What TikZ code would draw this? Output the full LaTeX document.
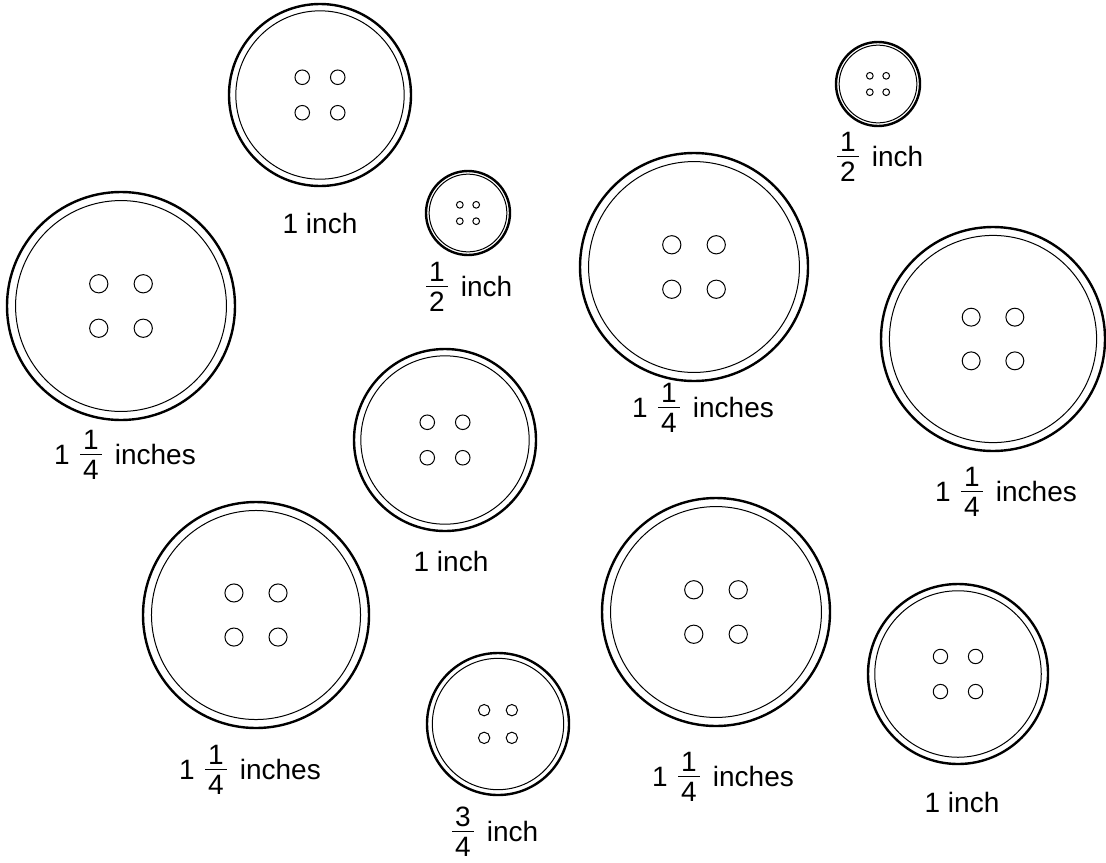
\documentclass[tikz,border=0pt]{standalone}
\usepackage{amsmath}
\usepackage{fontspec}
\setmainfont{Liberation Sans}
\usetikzlibrary{positioning}

\newcommand{\frc}[2]{\raisebox{1.5pt}{$\genfrac{}{}{0.7pt}{1}{\mbox{\rule[-1.5pt]{0pt}{1.5pt}\kern1.5pt#1\kern1.5pt}}{\mbox{\rule{0pt}{11.5pt}\kern1.5pt#2\kern1.5pt}}$}}

\begin{document}
\begin{tikzpicture}[
    x=0.5pt, y=-0.5pt,
    every node/.style={font=\fontsize{14}{17}\selectfont},
    size/.style={inner sep=0pt, align=center},
    rim/.style={line width=0.5pt},
    pics/button/.style={code={
        \draw[line width=1.2pt] (0,0) circle[radius=#1];
        \draw[rim] (0,0) circle[radius=0.925*#1];
        \draw[rim] ({-0.195*#1},{-0.195*#1}) circle[radius=0.08*#1];
        \draw[rim] ({0.195*#1},{-0.195*#1}) circle[radius=0.08*#1];
        \draw[rim] ({-0.195*#1},{0.195*#1}) circle[radius=0.08*#1];
        \draw[rim] ({0.195*#1},{0.195*#1}) circle[radius=0.08*#1];
    }}
]
\useasboundingbox (0,0) rectangle (1106,862);

\pic (oneA) at (320,95) {button=91};
\node (labA) [size] at (320,223) {1 inch};

\pic (halfA) at (468,213) {button=42};
\node (labB) [size] at (468,287) {\frc{1}{2}\hspace{1.5pt} inch};

\pic (halfB) at (878,84) {button=42};
\node (labC) [size] at (879,157) {\frc{1}{2}\hspace{1.5pt} inch};

\pic (bigA) at (121,306) {button=114};
\node (labD) [size] at (125,455) {1\hspace{4pt}\frc{1}{4}\hspace{1.5pt} inches};

\pic (bigB) at (694,267) {button=114};
\node (labE) [size] at (703,408) {1\hspace{4pt}\frc{1}{4}\hspace{1.5pt} inches};

\pic (bigC) at (993,339) {button=112};
\node (labF) [size] at (1006,492) {1\hspace{4pt}\frc{1}{4}\hspace{1.5pt} inches};

\pic (oneB) at (445,440) {button=91};
\node (labG) [size] at (451,561) {1 inch};

\pic (bigD) at (256,615) {button=113};
\node (labH) [size] at (250,770) {1\hspace{4pt}\frc{1}{4}\hspace{1.5pt} inches};

\pic (threeq) at (498,724) {button=71};
\node (labI) [size] at (494,832) {\frc{3}{4}\hspace{1.5pt} inch};

\pic (bigE) at (716,612) {button=114};
\node (labJ) [size] at (723,777) {1\hspace{4pt}\frc{1}{4}\hspace{1.5pt} inches};

\pic (oneC) at (958,674) {button=90};
\node (labK) [size] at (962,802) {1 inch};

\end{tikzpicture}
\end{document}
